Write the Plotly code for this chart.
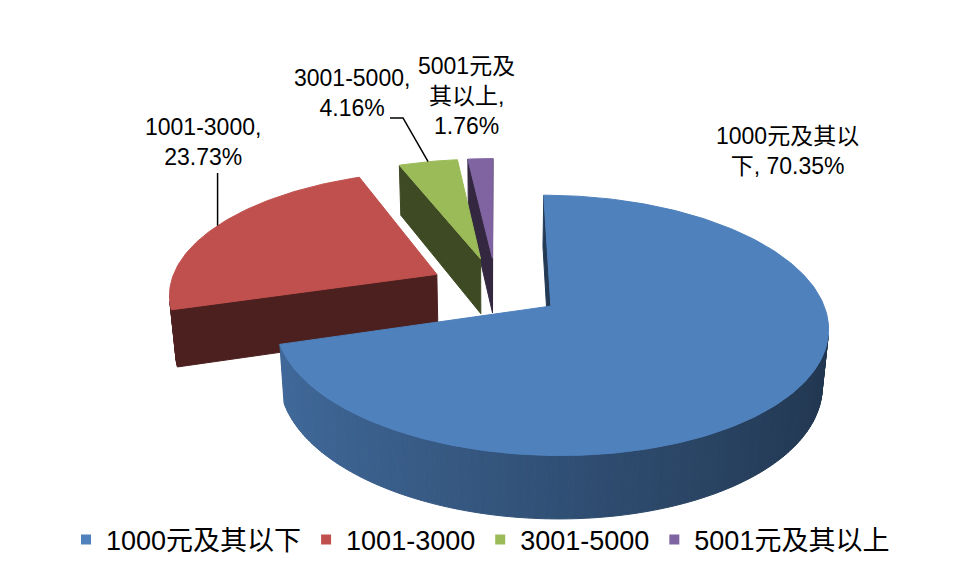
import math
import plotly.graph_objects as go

# ---------------- data ----------------
categories = ["1000元及其以下", "1001-3000", "3001-5000", "5001元及其以上"]
values = [70.35, 23.73, 4.16, 1.76]          # percent
colors = ["#4F81BD", "#C0504D", "#9BBB59", "#8064A2"]
label_breaks = [[8], [10], [10], [6, 10]]    # where the data labels wrap

# ---------------- style / projection ----------------
OFF = 8                      # page body margin
W, Hpx = 953 - OFF, 578 - OFF
FX, FY = 1634.0, 1608.0
OX, OY = 496.0, 287.5
CAM_L = 6.11
COS, SIN = 0.886, 0.463
DEPTH = 0.245
EXPLODE = 0.25
FONT = "Liberation Sans, Noto Sans CJK SC, sans-serif"

label_pos = [(787, 151), (203, 142), (352, 92.5), (466, 96)]
label_bottom_red = 173
green_elbow = [(403, 118), (390, 118)]


def proj(X, Y, Z):
    depth = CAM_L + Y * COS - Z * SIN
    up = Y * SIN + Z * COS
    return OX + FX * X / depth, OY - FY * up / depth


def shade(hexcol, f):
    h = hexcol.lstrip("#")
    r, g, b = (int(h[i:i + 2], 16) for i in (0, 2, 4))
    return "rgb(%d,%d,%d)" % (min(255, r * f), min(255, g * f), min(255, b * f))


cam = (0.0, -CAM_L * COS, CAM_L * SIN)

fig = go.Figure()


def poly(pts, col):
    xs = [p[0] for p in pts] + [pts[0][0]]
    ys = [p[1] for p in pts] + [pts[0][1]]
    fig.add_trace(go.Scatter(x=xs, y=ys, mode="lines", fill="toself",
                             fillcolor=col, line=dict(color=col, width=1),
                             hoverinfo="skip", showlegend=False))


# slice geometry
slices = []
cum = 0.0
for i, v in enumerate(values):
    a0 = cum
    a1 = cum + v / 100.0 * 360.0
    cum = a1
    mid = math.radians(90 - (a0 + a1) / 2)
    cx, cy = EXPLODE * math.cos(mid), EXPLODE * math.sin(mid)
    slices.append(dict(i=i, a0=a0, a1=a1, mid=mid, cx=cx, cy=cy,
                       depth=CAM_L + cy * COS))

order = sorted(slices, key=lambda s: -s["depth"])

rim_mid = {}
for s in order:
    i, a0, a1, cx, cy = s["i"], s["a0"], s["a1"], s["cx"], s["cy"]
    col = colors[i]
    n = max(2, int(math.ceil((a1 - a0) / 1.0)))
    angs = [math.radians(90 - (a0 + (a1 - a0) * k / n)) for k in range(n + 1)]

    # radial faces
    for m, sign in ((angs[0], 1), (angs[-1], -1)):
        nm = m + sign * math.pi / 2
        nx, ny = math.cos(nm), math.sin(nm)
        px, py = cx + 0.5 * math.cos(m), cy + 0.5 * math.sin(m)
        dot = nx * (cam[0] - px) + ny * (cam[1] - py)
        if dot > 0:
            f = 0.45 if i == 0 else 0.4
            pts = [proj(cx, cy, 0), proj(cx + math.cos(m), cy + math.sin(m), 0),
                   proj(cx + math.cos(m), cy + math.sin(m), -DEPTH), proj(cx, cy, -DEPTH)]
            poly(pts, shade(col, f))

    # outer side
    for k in range(n):
        m0, m1 = angs[k], angs[k + 1]
        mm = (m0 + m1) / 2
        nx, ny = math.cos(mm), math.sin(mm)
        px, py = cx + nx, cy + ny
        dot = nx * (cam[0] - px) + ny * (cam[1] - py)
        if dot <= 0:
            continue
        f = 0.62 - 0.2 * nx if i == 0 else 0.42
        pts = [proj(cx + math.cos(m0), cy + math.sin(m0), 0),
               proj(cx + math.cos(m1), cy + math.sin(m1), 0),
               proj(cx + math.cos(m1), cy + math.sin(m1), -DEPTH),
               proj(cx + math.cos(m0), cy + math.sin(m0), -DEPTH)]
        poly(pts, shade(col, f))

    # top
    pts = [proj(cx, cy, 0)] + [proj(cx + math.cos(m), cy + math.sin(m), 0) for m in angs]
    poly(pts, col)
    rim_mid[i] = proj(cx + math.cos(s["mid"]), cy + math.sin(s["mid"]), 0)

# leader lines
rx, ry = rim_mid[1]
fig.add_trace(go.Scatter(x=[rx, rx], y=[ry, label_bottom_red], mode="lines",
                         line=dict(color="black", width=1.5), hoverinfo="skip", showlegend=False))
gx, gy = rim_mid[2]
fig.add_trace(go.Scatter(x=[gx] + [p[0] for p in green_elbow], y=[gy] + [p[1] for p in green_elbow],
                         mode="lines", line=dict(color="black", width=1.5),
                         hoverinfo="skip", showlegend=False))

# data labels
for i, (cat, v) in enumerate(zip(categories, values)):
    full = "%s, %.2f%%" % (cat, v)
    parts, prev = [], 0
    for b in label_breaks[i]:
        parts.append(full[prev:b].strip())
        prev = b
    parts.append(full[prev:].strip())
    x, y = label_pos[i]
    fig.add_annotation(x=x, y=y, xref="x", yref="y", text="<br>".join(parts),
                       showarrow=False, align="center", xanchor="center", yanchor="middle",
                       font=dict(family=FONT, size=23, color="black"))

# legend entries
for cat, col in zip(categories, colors):
    fig.add_trace(go.Scatter(x=[-100], y=[-100], mode="markers", name=cat,
                             marker=dict(symbol="square", size=10, color=col),
                             hoverinfo="skip"))

fig.update_layout(
    width=W, height=Hpx,
    margin=dict(l=0, r=0, t=0, b=0),
    paper_bgcolor="white", plot_bgcolor="white",
    xaxis=dict(range=[OFF, OFF + W], visible=False, fixedrange=True),
    yaxis=dict(range=[OFF + Hpx, OFF], visible=False, fixedrange=True),
    legend=dict(orientation="h", x=0.5, xanchor="center", y=1 - (540 - OFF) / Hpx, yanchor="middle",
                font=dict(family=FONT, size=27, color="black"), bgcolor="rgba(0,0,0,0)",
                itemclick=False, itemdoubleclick=False),
    showlegend=True,
)

fig.write_html("out.html")
